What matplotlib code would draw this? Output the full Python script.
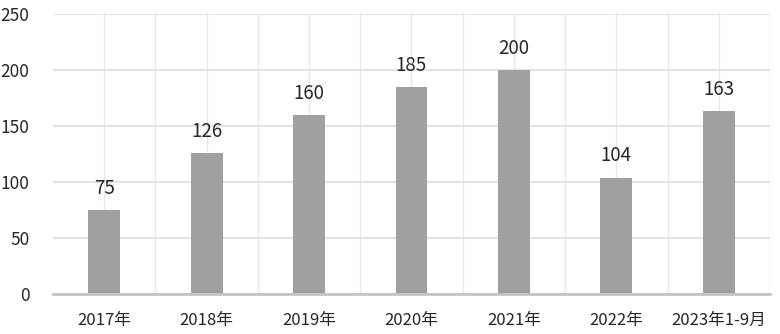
import matplotlib.pyplot as plt
import numpy as np

plt.rcParams['font.family'] = ['Noto Sans CJK SC', 'DejaVu Sans']

# data
categories = ['2017年', '2018年', '2019年', '2020年', '2021年', '2022年', '2023年1-9月']
values = [75, 126, 160, 185, 200, 104, 163]
yticks = [0, 50, 100, 150, 200, 250]

fig = plt.figure(figsize=(7.8, 3.34), dpi=100)
ax = fig.add_axes([53 / 780, 40 / 334, 717 / 780, 280 / 334])

x = np.arange(len(categories))
bars = ax.bar(x, values, width=0.31, color='#a0a0a0', zorder=3)

ax.set_xlim(-0.5, len(categories) - 0.5)
ax.set_ylim(0, 250)

# horizontal grid
ax.set_yticks(yticks)
ax.yaxis.grid(True, color='#e4e4e4', linewidth=1.5, zorder=0)
# vertical grid at centers and boundaries
for xc in x:
    ax.axvline(xc, color='#e8e8e8', linewidth=1, zorder=0)
for xb in np.arange(0.5, len(categories), 1.0):
    ax.axvline(xb, color='#e8e8e8', linewidth=1, zorder=0)

for s in ['top', 'left', 'right']:
    ax.spines[s].set_visible(False)
ax.spines['bottom'].set_color('#c4c4c4')
ax.spines['bottom'].set_linewidth(2)
ax.spines['bottom'].set_zorder(4)

ax.set_xticks(x)
ax.set_xticklabels(categories)
ax.tick_params(axis='x', length=0, pad=13, labelsize=12, labelcolor='#262626')
ax.tick_params(axis='y', length=0, pad=17, labelsize=12.5, labelcolor='#262626')

for xi, v in zip(x, values):
    ax.annotate(str(v), (xi, v), xytext=(0, 8), textcoords='offset points',
                ha='center', va='bottom', fontsize=13.5, color='#262626')

fig.savefig('out.png', dpi=100)
